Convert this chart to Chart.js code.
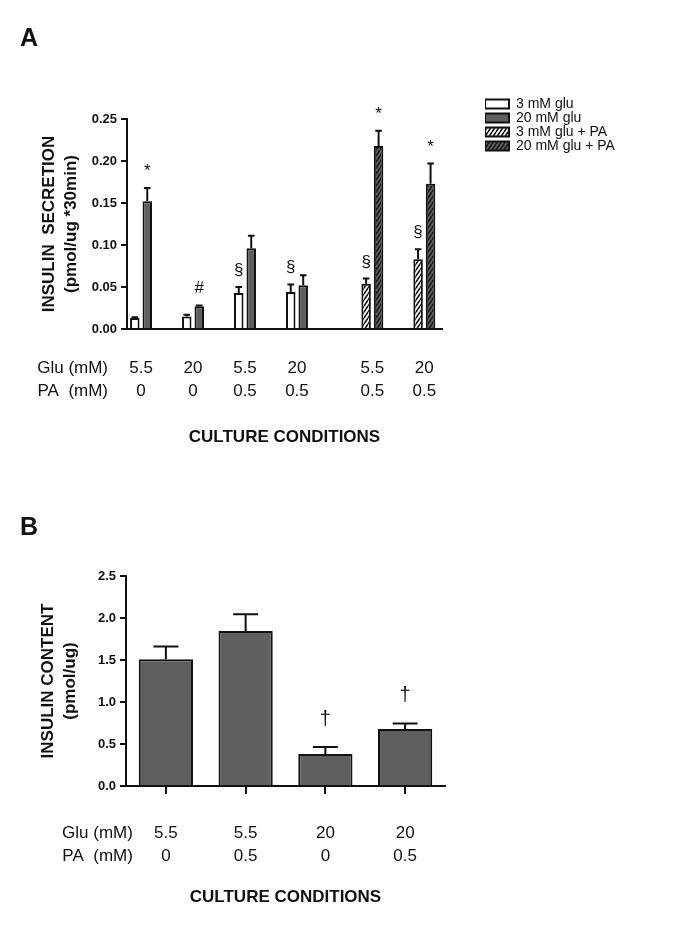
<!DOCTYPE html>
<html><head><meta charset="utf-8">
<script src="https://cdn.jsdelivr.net/npm/chart.js@4"></script>
<style>
html,body{margin:0;padding:0;background:#fff;width:685px;height:939px;overflow:hidden}
canvas{position:absolute;left:0}
</style></head>
<body>
<canvas id="cA" width="685" height="470" style="top:0px"></canvas>
<canvas id="cB" width="685" height="469" style="top:470px"></canvas>
<script>
// ---------- Panel A data ----------
const groupXA = [0, 1, 2, 3, 4.45, 5.45];
const gluA = ['5.5', '20', '5.5', '20', '5.5', '20'];
const paA = ['0', '0', '0.5', '0.5', '0.5', '0.5'];
const seriesA = ['3 mM glu', '20 mM glu', '3 mM glu + PA', '20 mM glu + PA'];
const glu3 = [0.013, 0.015, 0.043, 0.044, null, null];
const glu3Err = [0.001, 0.002, 0.007, 0.009, null, null];
const glu20 = [0.152, 0.027, 0.096, 0.052, null, null];
const glu20Err = [0.016, 0.001, 0.015, 0.012, null, null];
const glu3PA = [null, null, null, null, 0.054, 0.083];
const glu3PAErr = [null, null, null, null, 0.006, 0.012];
const glu20PA = [null, null, null, null, 0.218, 0.173];
const glu20PAErr = [null, null, null, null, 0.018, 0.024];
const sig3 = ['', '', '§', '§', '', ''];
const sig20 = ['*', '#', '', '', '', ''];
const sig3PA = ['', '', '', '', '§', '§'];
const sig20PA = ['', '', '', '', '*', '*'];
const yTicksA = ['0.00', '0.05', '0.10', '0.15', '0.20', '0.25'];
const yTitleA = ['INSULIN  SECRETION', '(pmol/ug *30min)'];

// ---------- Panel B data ----------
const gluB = ['5.5', '5.5', '20', '20'];
const paB = ['0', '0.5', '0', '0.5'];
const contentB = [1.51, 1.845, 0.38, 0.68];
const contentErrB = [0.15, 0.2, 0.085, 0.065];
const sigB = ['', '', '†', '†'];
const yTicksB = ['0.0', '0.5', '1.0', '1.5', '2.0', '2.5'];
const yTitleB = ['INSULIN CONTENT', '(pmol/ug)'];

// ---------- shared text ----------
const rowHeads = ['Glu (mM)', 'PA  (mM)'];
const xTitle = 'CULTURE CONDITIONS';

// ---------- style ----------
const F = '"Liberation Sans", Arial, Helvetica, sans-serif';
const INK = '#111';
const DARK = '#5f5f5f';
Chart.defaults.font.family = F;
Chart.defaults.color = INK;

function hatch(bg, fg) {
  const w = 4, h = 6;
  const c = document.createElement('canvas'); c.width = w; c.height = h;
  const g = c.getContext('2d');
  g.fillStyle = bg; g.fillRect(0, 0, w, h);
  g.strokeStyle = fg; g.lineWidth = 1.6;
  g.beginPath();
  for (const o of [-w, 0, w]) { g.moveTo(o, h); g.lineTo(o + w, 0); }
  g.stroke();
  return g.createPattern(c, 'repeat');
}

function errorPlugin(vals, errs, marks, capFrac, markFont, markGap) {
  return {
    id: 'errorBars',
    afterDatasetsDraw(chart) {
      const ctx = chart.ctx, ys = chart.scales.y;
      ctx.save();
      ctx.strokeStyle = INK; ctx.fillStyle = INK; ctx.lineWidth = 2;
      ctx.font = markFont; ctx.textAlign = 'center'; ctx.textBaseline = 'alphabetic';
      vals.forEach((arr, d) => {
        const meta = chart.getDatasetMeta(d);
        arr.forEach((v, i) => {
          if (v == null) return;
          const bar = meta.data[i];
          const top = ys.getPixelForValue(v + (errs[d][i] || 0));
          const half = bar.width * capFrac / 2;
          ctx.beginPath();
          ctx.moveTo(bar.x, bar.y); ctx.lineTo(bar.x, top);
          ctx.moveTo(bar.x - half, top); ctx.lineTo(bar.x + half, top);
          ctx.stroke();
          const m = marks[d][i];
          if (m) ctx.fillText(m, bar.x, top - markGap);
        });
      });
      ctx.restore();
    }
  };
}

function rowHeaderPlugin(lines, gap, lh) {
  return {
    id: 'rowHeader',
    afterDraw(chart) {
      const xs = chart.scales.x, ctx = chart.ctx;
      const g = xs.options.grid;
      const tl = g.drawTicks ? g.tickLength : 0;
      const y0 = xs.top + tl + xs.options.ticks.padding + lh / 2;
      const x = xs.getPixelForTick(0) - gap;
      ctx.save();
      ctx.font = '17px ' + F; ctx.fillStyle = INK;
      ctx.textAlign = 'right'; ctx.textBaseline = 'middle';
      lines.forEach((t, k) => ctx.fillText(t, x, y0 + k * lh));
      ctx.restore();
    }
  };
}

const LEG_X = 485, LEG_Y = 97;
const legendPlacer = {
  id: 'legendPlacer',
  afterLayout(chart) {
    const lg = chart.legend;
    if (!lg) return;
    const w = lg.width;
    lg.left = LEG_X; lg.right = LEG_X + w;
    lg.top = LEG_Y; lg.bottom = LEG_Y + 120; lg.height = 120;
  }
};

const whiteHatch = hatch('#ffffff', '#111');
const darkHatch = hatch(DARK, '#1a1a1a');

const tickLabelFont = { size: 17, lineHeight: '23px', family: F };
const axisTitleFont = { size: 17, weight: 'bold', lineHeight: 1.3, family: F };
const yTickFont = { size: 13, weight: 'bold', family: F };
const panelFont = { size: 25, weight: 'bold', lineHeight: 1.2, family: F };

function barDs(label, vals, bg) {
  return {
    label, backgroundColor: bg, borderColor: INK, borderWidth: 2,
    skipNull: true, categoryPercentage: 0.48, barPercentage: 0.76,
    data: groupXA.map((x, i) => ({ x, y: vals[i] }))
  };
}

// ---------- Chart A ----------
const chartA = new Chart(document.getElementById('cA'), {
  type: 'bar',
  data: {
    datasets: [
      barDs(seriesA[0], glu3, '#ffffff'),
      barDs(seriesA[1], glu20, DARK),
      barDs(seriesA[2], glu3PA, whiteHatch),
      barDs(seriesA[3], glu20PA, darkHatch)
    ]
  },
  options: {
    responsive: false, animation: false, events: [],
    layout: { padding: { left: 20, right: 100, top: 0, bottom: 0 } },
    plugins: {
      title: { display: true, text: 'A', align: 'start', font: panelFont, color: INK, padding: { top: 24, bottom: 65 } },
      legend: {
        position: 'right', align: 'start',
        labels: { boxWidth: 24, boxHeight: 9, padding: 0, color: INK, font: { size: 14, family: F } }
      },
      tooltip: { enabled: false }
    },
    scales: {
      x: {
        type: 'linear', min: -0.27, max: 5.79, stacked: false, offset: false,
        afterBuildTicks: (axis) => { axis.ticks = groupXA.map(v => ({ value: v })); },
        ticks: {
          autoSkip: false, maxRotation: 0, padding: 27.5, color: INK, font: tickLabelFont,
          callback: (v, i) => [gluA[i], paA[i]]
        },
        grid: { display: false, drawTicks: false, tickLength: 0, offset: false },
        border: { display: true, color: INK, width: 2, z: 1 },
        title: { display: true, text: xTitle, color: INK, font: axisTitleFont, padding: { top: 0, bottom: 21.8 } },
        afterFit: (s) => { s.height = 141; }
      },
      y: {
        min: 0, max: 0.25,
        afterBuildTicks: (axis) => { axis.ticks = yTicksA.map(t => ({ value: parseFloat(t) })); },
        ticks: { padding: 4, color: INK, font: yTickFont, callback: (v, i) => yTicksA[i] },
        grid: { drawOnChartArea: false, drawTicks: true, tickLength: 6, color: INK, lineWidth: 2 },
        border: { display: true, color: INK, width: 2, z: 1 },
        title: { display: true, text: yTitleA, color: INK, font: axisTitleFont, padding: { top: 18, bottom: 0 } },
        afterFit: (s) => { s.width = 107; }
      }
    }
  },
  plugins: [
    errorPlugin([glu3, glu20, glu3PA, glu20PA], [glu3Err, glu20Err, glu3PAErr, glu20PAErr],
      [sig3, sig20, sig3PA, sig20PA], 0.7, '17px ' + F, 12),
    rowHeaderPlugin(rowHeads, 33, 23),
    legendPlacer
  ]
});
chartA.options.layout.padding = { left: 20, right: Math.max(0, 685 - 442 - chartA.legend.width), top: 0, bottom: 0 };
chartA.update();

// ---------- Chart B ----------
const chartB = new Chart(document.getElementById('cB'), {
  type: 'bar',
  data: {
    labels: gluB.map((g, i) => [g, paB[i]]),
    datasets: [{
      label: 'Insulin content', data: contentB,
      backgroundColor: DARK, borderColor: INK, borderWidth: 2,
      categoryPercentage: 1, barPercentage: 0.68
    }]
  },
  options: {
    responsive: false, animation: false, events: [],
    layout: { padding: { left: 20, right: 240, top: 0, bottom: 0 } },
    plugins: {
      title: { display: true, text: 'B', align: 'start', font: panelFont, color: INK, padding: { top: 43.5, bottom: 32.5 } },
      legend: { display: false },
      tooltip: { enabled: false }
    },
    scales: {
      x: {
        type: 'category', offset: true,
        ticks: { autoSkip: false, maxRotation: 0, padding: 27.5, color: INK, font: tickLabelFont },
        grid: { offset: false, drawOnChartArea: false, drawTicks: true, tickLength: 8, color: INK, lineWidth: 2 },
        border: { display: true, color: INK, width: 2, z: 1 },
        title: { display: true, text: xTitle, color: INK, font: axisTitleFont, padding: { top: 0, bottom: 30.8 } },
        afterFit: (s) => { s.height = 153; }
      },
      y: {
        min: 0, max: 2.5,
        afterBuildTicks: (axis) => { axis.ticks = yTicksB.map(t => ({ value: parseFloat(t) })); },
        ticks: { padding: 4, color: INK, font: yTickFont, callback: (v, i) => yTicksB[i] },
        grid: { drawOnChartArea: false, drawTicks: true, tickLength: 6, color: INK, lineWidth: 2 },
        border: { display: true, color: INK, width: 2, z: 1 },
        title: { display: true, text: yTitleB, color: INK, font: axisTitleFont, padding: { top: 17, bottom: 0 } },
        afterFit: (s) => { s.width = 106; }
      }
    }
  },
  plugins: [
    errorPlugin([contentB], [contentErrB], [sigB], 0.46, '20px ' + F, 22),
    rowHeaderPlugin(rowHeads, 33, 23)
  ]
});
</script>
</body></html>
